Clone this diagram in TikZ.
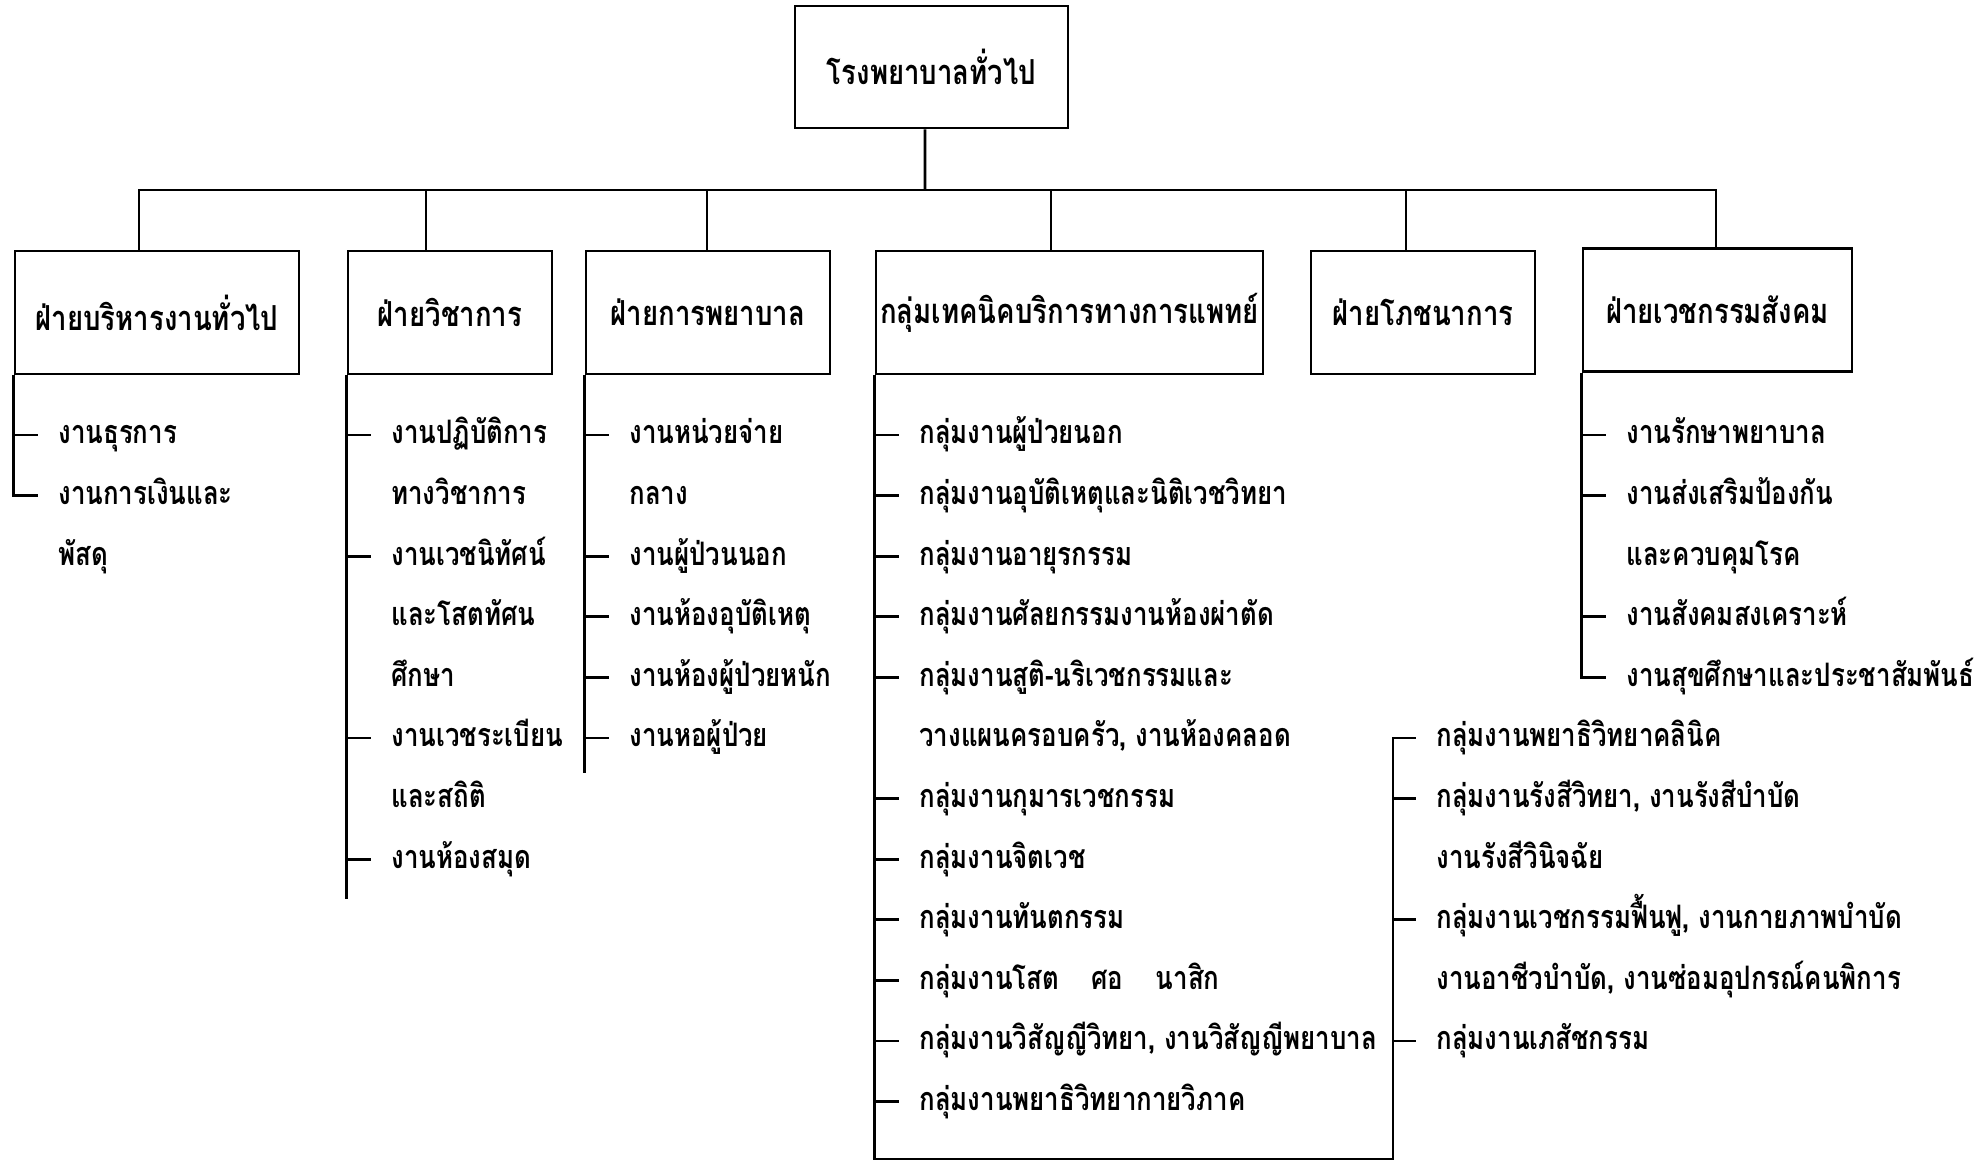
\documentclass[tikz,border=0pt]{standalone}
\usepackage{fontspec}
\setmainfont[Script=Thai, FakeStretch=0.8]{Loma}

\tikzset{
  unitbox/.style={draw, line width=0.8pt, minimum height=12.3mm, inner sep=0pt,
    font=\fontsize{9.8}{12}\selectfont\bfseries},
  item/.style={anchor=west, inner sep=0pt, text height=7pt, text depth=2pt,
    font=\fontsize{9.2}{12}\selectfont\bfseries},
  leader/.style={line width=0.8pt}
}

\begin{document}
\begin{tikzpicture}[x=0.1mm,y=-0.1mm,line width=0.8pt]

    % page frame
    \useasboundingbox (0,0) rectangle (1986,1164);

    % top box
    \node[unitbox, minimum width=27.3mm, minimum height=12.2mm] (hosp) at (931.5,67) {โรงพยาบาลทั่วไป};

    % second level boxes
    \node[unitbox, minimum width=28.4mm] (admin) at (157,312.5) {ฝ่ายบริหารงานทั่วไป};
    \node[unitbox, minimum width=20.4mm] (acad) at (450,312.5) {ฝ่ายวิชาการ};
    \node[unitbox, minimum width=24.4mm] (nurse) at (708,312.5) {ฝ่ายการพยาบาล};
    \node[unitbox, minimum width=38.7mm] (medtech) at (1069.5,312.5) {กลุ่มเทคนิคบริการทางการแพทย์};
    \node[unitbox, minimum width=22.4mm] (nutr) at (1423,312.5) {ฝ่ายโภชนาการ};
    \node[unitbox, minimum width=26.9mm] (social) at (1717.5,310) {ฝ่ายเวชกรรมสังคม};

    % bus between the levels
    \coordinate (bus) at (925,190);
    \draw ([xshift=-0.65mm]hosp.south) -- (bus);
    \foreach \u/\s in {admin/-1.8,acad/-2.4,nurse/-0.1,medtech/-1.85,nutr/-1.7,social/-0.15}
        \draw ([xshift=\s mm]\u.north) |- (bus);

    % free ends of the lists
    \coordinate (endacad) at (0,899);
    \coordinate (endnurse) at (0,773);
    \coordinate (base) at (0,1159);

    % admin list
    \foreach \r/\txt/\tk in {0/งานธุรการ/1, 1/งานการเงินและ/0, 2/พัสดุ/0} {
        \node[item] (adm-\r) at (57,{435+60.6*\r}) {\txt};
        \ifnum\tk=1 \draw[leader] ([xshift=-4.2mm]adm-\r.west) -- ([xshift=-1.9mm]adm-\r.west); \fi
    }
    \draw (admin.south west) |- ([xshift=-1.9mm]adm-1.west);

    % academic list
    \foreach \r/\txt/\tk in {0/งานปฏิบัติการ/1, 1/ทางวิชาการ/0, 2/งานเวชนิทัศน์/1,
        3/และโสตทัศน/0, 4/ศึกษา/0, 5/งานเวชระเบียน/1, 6/และสถิติ/0, 7/งานห้องสมุด/1} {
        \node[item] (aca-\r) at (390,{435+60.6*\r}) {\txt};
        \ifnum\tk=1 \draw[leader] ([xshift=-4.2mm]aca-\r.west) -- ([xshift=-1.9mm]aca-\r.west); \fi
    }
    \draw (acad.south west) -- (acad.south west |- endacad);

    % nursing list
    \foreach \r/\txt/\tk in {0/งานหน่วยจ่าย/1, 1/กลาง/0, 2/งานผู้ป่วนนอก/1,
        3/งานห้องอุบัติเหตุ/1, 4/งานห้องผู้ป่วยหนัก/1, 5/งานหอผู้ป่วย/1} {
        \node[item] (nur-\r) at (628,{435+60.6*\r}) {\txt};
        \ifnum\tk=1 \draw[leader] ([xshift=-4.2mm]nur-\r.west) -- ([xshift=-1.9mm]nur-\r.west); \fi
    }
    \draw (nurse.south west) -- (nurse.south west |- endnurse);

    % medical technical services list
    \foreach \r/\txt/\tk in {0/กลุ่มงานผู้ป่วยนอก/1, 1/กลุ่มงานอุบัติเหตุและนิติเวชวิทยา/1,
        2/กลุ่มงานอายุรกรรม/1, 3/กลุ่มงานศัลยกรรมงานห้องผ่าตัด/1,
        4/กลุ่มงานสูติ-นริเวชกรรมและ/1, 5/{วางแผนครอบครัว, งานห้องคลอด}/0,
        6/กลุ่มงานกุมารเวชกรรม/1, 7/กลุ่มงานจิตเวช/1, 8/กลุ่มงานทันตกรรม/1,
        9/{กลุ่มงานโสต\quad ศอ\quad นาสิก}/1, 10/{กลุ่มงานวิสัญญีวิทยา, งานวิสัญญีพยาบาล}/1,
        11/กลุ่มงานพยาธิวิทยากายวิภาค/1} {
        \node[item] (med-\r) at (918,{435+60.6*\r}) {\txt};
        \ifnum\tk=1 \draw[leader] ([xshift=-4.2mm]med-\r.west) -- ([xshift=-1.9mm]med-\r.west); \fi
    }

    % second column of the same group
    \foreach \r/\txt/\tk in {5/กลุ่มงานพยาธิวิทยาคลินิค/0, 6/{กลุ่มงานรังสีวิทยา, งานรังสีบำบัด}/1,
        7/งานรังสีวินิจฉัย/0, 8/{กลุ่มงานเวชกรรมฟื้นฟู, งานกายภาพบำบัด}/1,
        9/{งานอาชีวบำบัด, งานซ่อมอุปกรณ์คนพิการ}/0, 10/กลุ่มงานเภสัชกรรม/1} {
        \node[item] (lab-\r) at (1435,{435+60.6*\r}) {\txt};
        \ifnum\tk=1 \draw[leader] ([xshift=-4.2mm]lab-\r.west) -- ([xshift=-1.9mm]lab-\r.west); \fi
    }
    \draw (medtech.south west) -- (medtech.south west |- base)
        -| ([xshift=-4.2mm]lab-5.west) -- ([xshift=-1.9mm]lab-5.west);

    % social medicine list
    \foreach \r/\txt/\tk in {0/งานรักษาพยาบาล/1, 1/งานส่งเสริมป้องกัน/1, 2/และควบคุมโรค/0,
        3/งานสังคมสงเคราะห์/1, 4/งานสุขศึกษาและประชาสัมพันธ์/0} {
        \node[item] (soc-\r) at (1625,{435+60.6*\r}) {\txt};
        \ifnum\tk=1 \draw[leader] ([xshift=-4.2mm]soc-\r.west) -- ([xshift=-1.9mm]soc-\r.west); \fi
    }
    \draw (social.south west) |- ([xshift=-1.9mm]soc-4.west);

\end{tikzpicture}
\end{document}
